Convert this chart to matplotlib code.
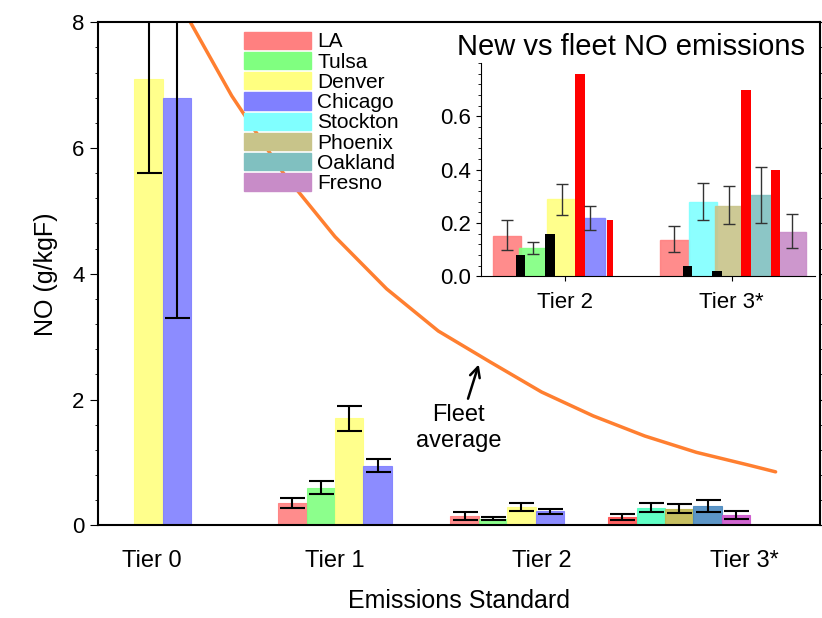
import matplotlib
matplotlib.use("Agg")
import matplotlib.pyplot as plt
import numpy as np
from matplotlib.ticker import MultipleLocator
plt.rcParams['font.family'] = ['Liberation Sans', 'DejaVu Sans']

cities = ["LA", "Tulsa", "Denver", "Chicago", "Stockton", "Phoenix", "Oakland", "Fresno"]
colors = {"LA": "#ff8080", "Tulsa": "#80ff80", "Denver": "#ffff80", "Chicago": "#8080ff",
          "Stockton": "#80ffff", "Phoenix": "#c8c48a", "Oakland": "#80c0c0", "Fresno": "#c88cc8"}
tiers = ["Tier 0", "Tier 1", "Tier 2", "Tier 3*"]

# main chart data: (city, value, err)
main_data = [
    [("Denver", 7.1, 1.5), ("Chicago", 6.8, 3.5)],
    [("LA", 0.35, 0.08), ("Tulsa", 0.6, 0.1), ("Denver", 1.7, 0.2), ("Chicago", 0.95, 0.1)],
    [("LA", 0.15, 0.06), ("Tulsa", 0.105, 0.025), ("Denver", 0.29, 0.06), ("Chicago", 0.22, 0.045)],
    [("LA", 0.135, 0.05), ("Stockton", 0.28, 0.07), ("Phoenix", 0.265, 0.07), ("Oakland", 0.305, 0.1), ("Fresno", 0.165, 0.065)],
]
tier3_colors = {"LA": "#ff5050", "Stockton": "#50ffc0", "Phoenix": "#c0b850", "Oakland": "#4a8ac0", "Fresno": "#cc55cc"}

fleet_x = [0.16, 0.4, 0.7, 1.0, 1.3, 1.6, 1.9, 2.2, 2.5, 2.8, 3.1, 3.4, 3.56]
fleet_y = [8.0, 6.83, 5.6, 4.59, 3.76, 3.09, 2.6, 2.12, 1.74, 1.42, 1.16, 0.96, 0.85]

# inset data
inset_wide = [
    [("LA", 0.15, 0.1, 0.21), ("Tulsa", 0.105, 0.085, 0.13), ("Denver", 0.29, 0.23, 0.345), ("Chicago", 0.22, 0.175, 0.265)],
    [("LA", 0.135, 0.09, 0.19), ("Stockton", 0.28, 0.21, 0.35), ("Phoenix", 0.265, 0.195, 0.34), ("Oakland", 0.305, 0.2, 0.41), ("Fresno", 0.165, 0.105, 0.235)],
]
inset_black = [[0.08, 0.16], [0.04, 0.02]]
inset_red = [[0.76, 0.21], [0.70, 0.40]]

fig = plt.figure(figsize=(8.22, 6.18), dpi=100)
ax = fig.add_axes([0.119, 0.150, 0.879, 0.814])
w = 0.165
for gi, grp in enumerate(main_data):
    n = len(grp)
    for j, (c, v, e) in enumerate(grp):
        x = gi + (j - (n - 1) / 2) * w
        col = tier3_colors[c] if gi == 3 else colors[c]
        ax.bar(x, v, w, color=col, alpha=0.9, edgecolor=col, linewidth=0.8)
        ax.errorbar(x, v, yerr=e, color='black', capsize=9, capthick=1.5, elinewidth=1.5)
ax.plot(fleet_x, fleet_y, color="#ff7f30", lw=2.5, solid_capstyle='round')
ax.annotate("Fleet\naverage", xy=(1.84, 2.6), xytext=(1.72, 1.55), ha='center', va='center',
            fontsize=17, arrowprops=dict(arrowstyle='->', color='black', lw=1.8, shrinkB=2, mutation_scale=18))
ax.set_xlim(-0.378, 3.82)
ax.set_ylim(0, 8)
ax.set_xticks([-0.064, 1.0, 2.2, 3.38], tiers, fontsize=17)
ax.tick_params(axis='x', length=0, pad=18)
ax.yaxis.set_major_locator(MultipleLocator(2))
ax.yaxis.set_minor_locator(MultipleLocator(0.4))
ax.tick_params(axis='y', labelsize=16, right=True, which='both', direction='out')
ax.tick_params(axis='y', which='major', length=6)
ax.set_ylabel("NO (g/kgF)", fontsize=18, labelpad=10)
ax.set_xlabel("Emissions Standard", fontsize=18, labelpad=12)
for s in ax.spines.values():
    s.set_linewidth(1.5)

handles = [plt.Rectangle((0, 0), 1, 1, color=colors[c]) for c in cities]
ax.legend(handles, cities, loc='upper left', bbox_to_anchor=(0.19, 1.0), frameon=False,
          fontsize=15, handlelength=3.2, handleheight=0.9, labelspacing=0.02, borderaxespad=0.05,
          handletextpad=0.3)

ia = fig.add_axes([0.585, 0.553, 0.407, 0.345])
s = 1 / 502
wide_off = [[-173, -95, -9, 78], [-172, -87, -7, 88, 181]]
black_off = [[-132, -44], [-133, -44]]
red_off = [[45, 138], [43, 131]]
red_w = [[30, 18], [30, 28]]
for gi in range(2):
    for j, (c, v, lo, hi) in enumerate(inset_wide[gi]):
        x = gi + wide_off[gi][j] * s
        ia.bar(x, v, 85 * s, color=colors[c], edgecolor=colors[c], alpha=0.9)
        ia.errorbar(x, v, yerr=[[v - lo], [hi - v]], color='#333333', capsize=4, elinewidth=1)
    for j, v in enumerate(inset_black[gi]):
        ia.bar(gi + black_off[gi][j] * s, v, 28 * s, color='black')
    for j, v in enumerate(inset_red[gi]):
        ia.bar(gi + red_off[gi][j] * s, v, red_w[gi][j] * s, color='red')
ia.set_xlim(-0.5, 1.5)
ia.set_ylim(0, 0.8)
ia.set_xticks([0, 1], ["Tier 2", "Tier 3*"], fontsize=16)
ia.tick_params(axis='x', pad=8)
ia.set_yticks([0, 0.2, 0.4, 0.6], ["0.0", "0.2", "0.4", "0.6"], fontsize=16)
ia.yaxis.set_minor_locator(MultipleLocator(0.04))
ia.tick_params(axis='y', which='minor', length=2)
ia.spines['top'].set_visible(False)
ia.spines['right'].set_visible(False)
ia.set_facecolor('none')
ia.set_title("New vs fleet NO emissions", fontsize=21, pad=6, x=0.45)

fig.savefig("out.png", dpi=100)
